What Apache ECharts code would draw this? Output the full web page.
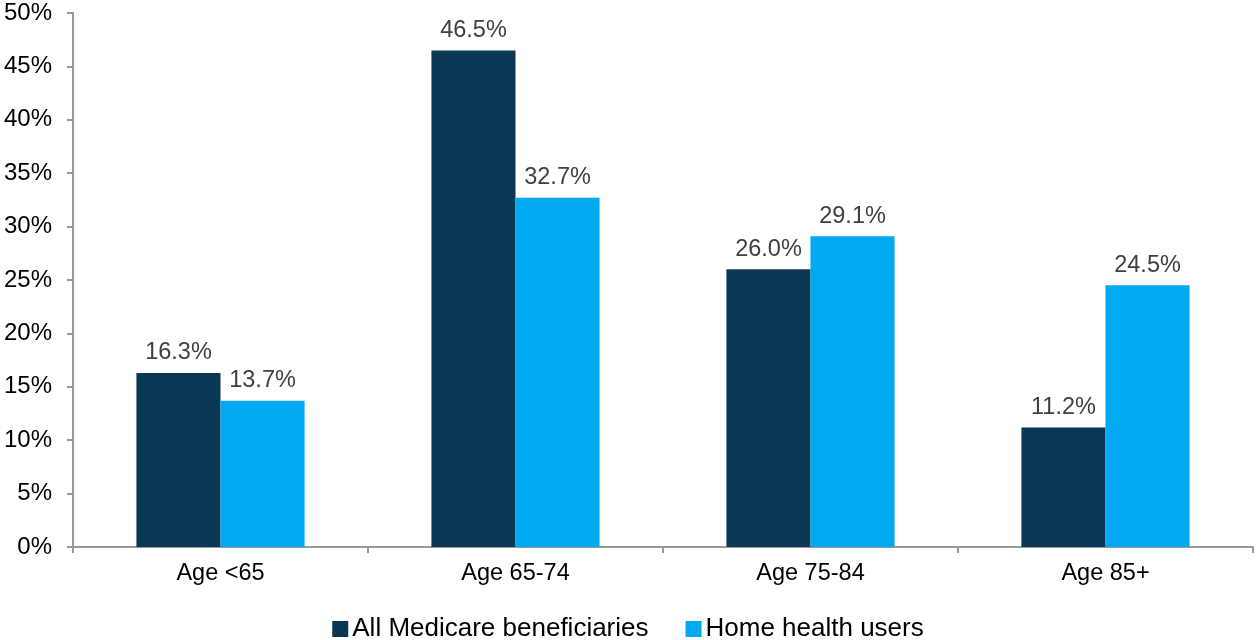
<!DOCTYPE html>
<html>
<head>
<meta charset="utf-8">
<script src="https://cdn.jsdelivr.net/npm/echarts@6/dist/echarts.min.js"></script>
<style>
html,body{margin:0;padding:0;background:#fff;}
#chart{width:1256px;height:640px;}
</style>
</head>
<body>
<div id="chart"></div>
<script>
const categories = ['Age <65', 'Age 65-74', 'Age 75-84', 'Age 85+'];
const seriesNames = ['All Medicare beneficiaries', 'Home health users'];
const allMedicare = [16.3, 46.5, 26.0, 11.2];
const homeHealth = [13.7, 32.7, 29.1, 24.5];
const yTicks = [0, 5, 10, 15, 20, 25, 30, 35, 40, 45, 50];

const font = 'Liberation Sans, Arial, sans-serif';
const chart = echarts.init(document.getElementById('chart'));
const labelOpt = {
  show: true,
  position: 'top',
  distance: 8,
  color: '#404040',
  fontFamily: font,
  fontSize: 23.5,
  formatter: p => p.value.toFixed(1) + '%'
};
chart.setOption({
  animation: false,
  textStyle: { fontFamily: font },
  grid: { left: 73, right: 3, top: 13, bottom: 93, containLabel: false },
  legend: {
    bottom: -7,
    left: 'center',
    itemWidth: 16,
    itemHeight: 16,
    itemGap: 37,
    icon: 'rect',
    textStyle: { fontFamily: font, fontSize: 26, color: '#000', padding: [0, 0, 0, -1] },
    data: seriesNames
  },
  xAxis: {
    type: 'category',
    data: categories,
    axisLine: { lineStyle: { color: '#999', width: 2 } },
    axisTick: { show: true, length: 6, lineStyle: { color: '#999', width: 2 } },
    axisLabel: { color: '#000', fontFamily: font, fontSize: 23.5, margin: 15 }
  },
  yAxis: {
    type: 'value',
    min: yTicks[0],
    max: yTicks[yTicks.length - 1],
    interval: 5,
    splitLine: { show: false },
    axisLine: { show: true, lineStyle: { color: '#999', width: 2 } },
    axisTick: { show: true, length: 6, lineStyle: { color: '#999', width: 2 } },
    axisLabel: { color: '#000', fontFamily: font, fontSize: 24, margin: 21, formatter: v => v + '%' }
  },
  series: [
    {
      name: seriesNames[0], type: 'bar', data: allMedicare,
      barGap: '0%', barCategoryGap: '43%',
      itemStyle: { color: '#0A3754' },
      label: labelOpt
    },
    {
      name: seriesNames[1], type: 'bar', data: homeHealth,
      itemStyle: { color: '#00A9F1' },
      label: labelOpt
    }
  ]
});
</script>
</body>
</html>
